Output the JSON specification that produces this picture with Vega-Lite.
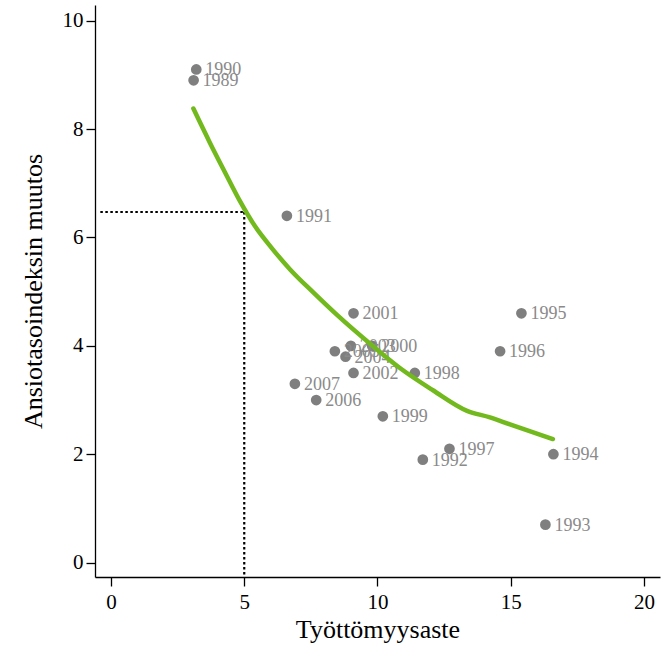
{
  "$schema": "https://vega.github.io/schema/vega-lite/v6.json",
  "autosize": "none",
  "width": 565,
  "height": 572,
  "padding": {"left": 95, "top": 5, "right": 4, "bottom": 69},
  "background": "white",
  "config": {
    "view": {"stroke": null},
    "font": "Liberation Serif",
    "axis": {
      "grid": false,
      "domainColor": "black",
      "domainWidth": 1.3,
      "tickColor": "black",
      "tickWidth": 1.3,
      "tickSize": 9,
      "labelFont": "Liberation Serif",
      "labelFontSize": 21,
      "labelColor": "black",
      "titleFont": "Liberation Serif",
      "titleFontSize": 26,
      "titleFontWeight": "normal",
      "titleColor": "black"
    }
  },
  "datasets": {
    "pts": [
      {"vuosi": "1989", "tyottomyys": 3.1, "ansio": 8.9},
      {"vuosi": "1990", "tyottomyys": 3.2, "ansio": 9.1},
      {"vuosi": "1991", "tyottomyys": 6.6, "ansio": 6.4},
      {"vuosi": "1992", "tyottomyys": 11.7, "ansio": 1.9},
      {"vuosi": "1993", "tyottomyys": 16.3, "ansio": 0.7},
      {"vuosi": "1994", "tyottomyys": 16.6, "ansio": 2.0},
      {"vuosi": "1995", "tyottomyys": 15.4, "ansio": 4.6},
      {"vuosi": "1996", "tyottomyys": 14.6, "ansio": 3.9},
      {"vuosi": "1997", "tyottomyys": 12.7, "ansio": 2.1},
      {"vuosi": "1998", "tyottomyys": 11.4, "ansio": 3.5},
      {"vuosi": "1999", "tyottomyys": 10.2, "ansio": 2.7},
      {"vuosi": "2000", "tyottomyys": 9.8, "ansio": 4.0},
      {"vuosi": "2001", "tyottomyys": 9.1, "ansio": 4.6},
      {"vuosi": "2002", "tyottomyys": 9.1, "ansio": 3.5},
      {"vuosi": "2003", "tyottomyys": 9.0, "ansio": 4.0},
      {"vuosi": "2004", "tyottomyys": 8.8, "ansio": 3.8},
      {"vuosi": "2005", "tyottomyys": 8.4, "ansio": 3.9},
      {"vuosi": "2006", "tyottomyys": 7.7, "ansio": 3.0},
      {"vuosi": "2007", "tyottomyys": 6.9, "ansio": 3.3}
    ],
    "curve": [
      {"tyottomyys": 3.09, "ansio": 8.38},
      {"tyottomyys": 3.71, "ansio": 7.75},
      {"tyottomyys": 4.28, "ansio": 7.2},
      {"tyottomyys": 4.84, "ansio": 6.67},
      {"tyottomyys": 5.4, "ansio": 6.21},
      {"tyottomyys": 6.04, "ansio": 5.8},
      {"tyottomyys": 6.72, "ansio": 5.41},
      {"tyottomyys": 7.58, "ansio": 4.99},
      {"tyottomyys": 8.48, "ansio": 4.57},
      {"tyottomyys": 9.79, "ansio": 4.01},
      {"tyottomyys": 10.84, "ansio": 3.59},
      {"tyottomyys": 12.08, "ansio": 3.18},
      {"tyottomyys": 13.36, "ansio": 2.8},
      {"tyottomyys": 14.22, "ansio": 2.68},
      {"tyottomyys": 14.97, "ansio": 2.55},
      {"tyottomyys": 16.58, "ansio": 2.28}
    ],
    "apu": [
      {"x": -0.4, "x2": 5, "y": 6.47, "y2": 6.47},
      {"x": 5, "x2": 5, "y": 6.47, "y2": -0.27}
    ]
  },
  "layer": [
    {
      "data": {"name": "apu"},
      "mark": {"type": "rule", "color": "black", "strokeWidth": 2.2, "strokeDash": [2.5, 2.5]},
      "encoding": {
        "x": {"field": "x", "type": "quantitative", "scale": {"domain": [-0.6, 20.6], "nice": false, "zero": false},
          "axis": {"values": [0, 5, 10, 15, 20], "format": "d", "title": "Työttömyysaste", "titlePadding": 4, "labelPadding": 5}},
        "x2": {"field": "x2"},
        "y": {"field": "y", "type": "quantitative", "scale": {"domain": [-0.266, 10.29], "nice": false, "zero": false},
          "axis": {"values": [0, 2, 4, 6, 8, 10], "format": "d", "title": "Ansiotasoindeksin muutos", "titlePadding": 16, "labelPadding": 3}},
        "y2": {"field": "y2"}
      }
    },
    {
      "data": {"name": "pts"},
      "mark": {"type": "point", "filled": true, "shape": "circle", "size": 115, "color": "#7f7f7f", "opacity": 1},
      "encoding": {
        "x": {"field": "tyottomyys", "type": "quantitative"},
        "y": {"field": "ansio", "type": "quantitative"}
      }
    },
    {
      "data": {"name": "pts"},
      "mark": {"type": "text", "align": "left", "baseline": "middle", "dx": 9, "dy": 1, "fontSize": 18, "font": "Liberation Serif", "color": "#8a8a8a"},
      "encoding": {
        "x": {"field": "tyottomyys", "type": "quantitative"},
        "y": {"field": "ansio", "type": "quantitative"},
        "text": {"field": "vuosi", "type": "nominal"}
      }
    },
    {
      "data": {"name": "curve"},
      "mark": {"type": "line", "color": "#72b91e", "strokeWidth": 4.5, "interpolate": "monotone", "strokeCap": "round"},
      "encoding": {
        "x": {"field": "tyottomyys", "type": "quantitative"},
        "y": {"field": "ansio", "type": "quantitative"}
      }
    }
  ]
}
